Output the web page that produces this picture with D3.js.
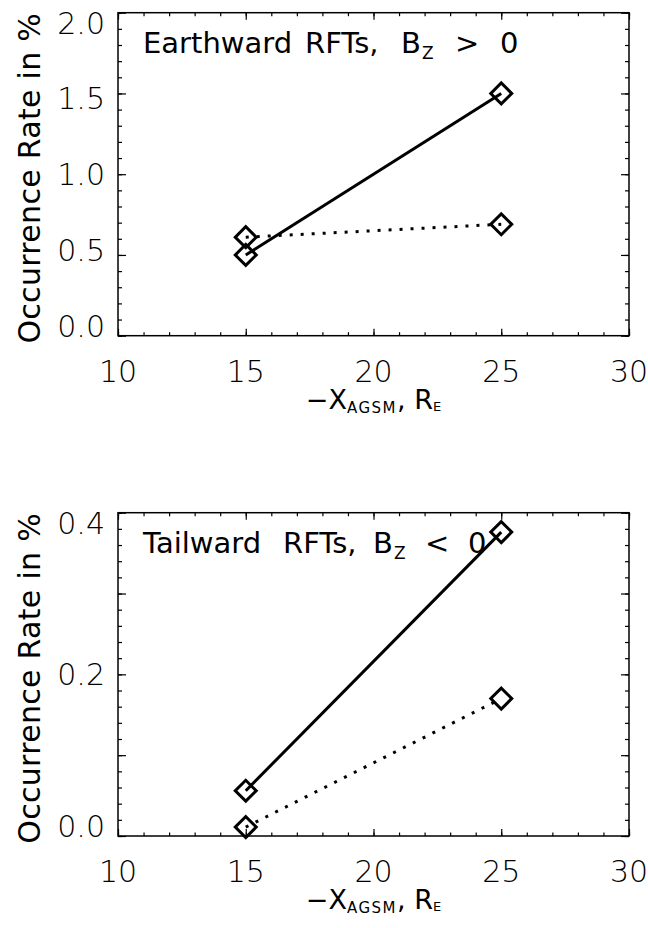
<!DOCTYPE html>
<html>
<head>
<meta charset="utf-8">
<script src="https://cdn.jsdelivr.net/npm/d3@7"></script>
<style>
body { margin: 0; background: #fff; }
svg { display: block; }
text { font-family: "DejaVu Sans", sans-serif; fill: #000; }
.ticklab { font-weight: 200; }
</style>
</head>
<body>
<div id="chart"></div>
<script>
// Values
var distances = [15, 25];
var earthwardSolid = [0.50, 1.50];
var earthwardDotted = [0.61, 0.69];
var tailwardSolid = [0.056, 0.376];
var tailwardDotted = [0.011, 0.170];
var xTickLabels = [10, 15, 20, 25, 30];
var earthwardYLabels = [0.0, 0.5, 1.0, 1.5, 2.0];
var tailwardYLabels = [0.0, 0.2, 0.4];

var W = 648, H = 928;
var left = 118, right = 629;

var svg = d3.select("#chart").append("svg")
    .attr("width", W)
    .attr("height", H);

// title words: [text, x offset from the title start]
var panels = [
    {top: 12.7, bottom: 335.7, yDomain: [0, 2], majorCount: 4, minorCount: 20,
     yLabels: earthwardYLabels, solid: earthwardSolid, dotted: earthwardDotted,
     title: [["Earthward", 0], ["RFTs,", 162], ["B", 258], [">", 312], ["0", 357]]},
    {top: 512.7, bottom: 836, yDomain: [0, 0.4], majorCount: 4, minorCount: 20,
     yLabels: tailwardYLabels, solid: tailwardSolid, dotted: tailwardDotted,
     title: [["Tailward", 0], ["RFTs,", 140], ["B", 230], ["<", 282], ["0", 325]]}
];

// Ticks on one side of the box, pointing inwards
function side(g, axisFn, scale, ticks, size, transform) {
    g.append("g")
        .attr("transform", transform)
        .call(axisFn(scale).tickValues(ticks).tickSize(size).tickSizeOuter(0).tickFormat(""))
        .call(function(s) { s.select(".domain").remove(); })
        .selectAll("line")
            .attr("stroke", "#000")
            .attr("stroke-width", 1.2);
}

function drawPanel(p) {
    var g = svg.append("g");
    var x = d3.scaleLinear().domain([10, 30]).range([left, right]);
    var y = d3.scaleLinear().domain(p.yDomain).range([p.bottom, p.top]);

    var xMaj = x.ticks(4), xMin = x.ticks(20);
    var yMaj = y.ticks(p.majorCount), yMin = y.ticks(p.minorCount);

    // box ticks on all four sides
    side(g, d3.axisBottom, x, xMin, -3.5, `translate(0,${p.bottom})`);
    side(g, d3.axisBottom, x, xMaj, -7, `translate(0,${p.bottom})`);
    side(g, d3.axisTop, x, xMin, -3.5, `translate(0,${p.top})`);
    side(g, d3.axisTop, x, xMaj, -7, `translate(0,${p.top})`);
    side(g, d3.axisLeft, y, yMin, -4, `translate(${left},0)`);
    side(g, d3.axisLeft, y, yMaj, -8, `translate(${left},0)`);
    side(g, d3.axisRight, y, yMin, -4, `translate(${right},0)`);
    side(g, d3.axisRight, y, yMaj, -8, `translate(${right},0)`);

    g.append("rect")
        .attr("x", left)
        .attr("y", p.top)
        .attr("width", right - left)
        .attr("height", p.bottom - p.top)
        .attr("fill", "none")
        .attr("stroke", "#000")
        .attr("stroke-width", 1.5);

    // x tick labels
    g.selectAll(".xlab")
        .data(xTickLabels)
        .enter()
        .append("text")
            .attr("class", "ticklab")
            .attr("x", function(v) { return x(v); })
            .attr("y", p.bottom + 46)
            .attr("text-anchor", "middle")
            .style("font-size", "30px")
            .text(function(v) { return v; });

    // y tick labels, end labels pulled inside the box like the original
    var ly = d3.scaleLinear().domain(p.yDomain).range([p.bottom - 10, p.top + 10]);
    g.selectAll(".ylab")
        .data(p.yLabels)
        .enter()
        .append("text")
            .attr("class", "ticklab")
            .attr("x", 105)
            .attr("y", function(v) { return ly(v); })
            .attr("dy", "0.36em")
            .attr("text-anchor", "end")
            .style("font-size", "30px")
            .text(function(v) { return d3.format(".1f")(v); });

    // axis titles
    var xl = g.append("text")
        .attr("x", (left + right) / 2)
        .attr("y", p.bottom + 73)
        .attr("text-anchor", "middle")
        .style("font-size", "27px");
    xl.append("tspan").text("\u2212X");
    xl.append("tspan").attr("dy", 4).style("font-size", "15px").style("letter-spacing", "1.5px").text("AGSM");
    xl.append("tspan").attr("dy", -4).text(",  R");
    xl.append("tspan").attr("dy", 2).style("font-size", "13px").text("E");

    g.append("text")
        .attr("transform", `translate(40,${(p.top + p.bottom) / 2 + 4}) rotate(-90)`)
        .attr("text-anchor", "middle")
        .style("font-size", "30px")
        .style("letter-spacing", "0.3px")
        .text("Occurrence Rate in %");

    // panel title
    var t = g.append("text")
        .attr("y", p.top + 40)
        .style("font-size", "29px");
    p.title.forEach(function(w) {
        t.append("tspan").attr("x", 143 + w[1]).attr("y", p.top + 40).text(w[0]);
        if (w[0] == "B") {
            t.append("tspan").attr("x", 143 + w[1] + 21).attr("y", p.top + 46)
                .style("font-size", "17px").text("Z");
        }
    });

    // data
    var line = d3.line()
        .x(function(d) { return x(d[0]); })
        .y(function(d) { return y(d[1]); });

    g.append("path")
        .datum(d3.zip(distances, p.dotted))
        .attr("d", line)
        .attr("fill", "none")
        .attr("stroke", "#000")
        .attr("stroke-width", 3)
        .attr("stroke-dasharray", "3,8");

    g.append("path")
        .datum(d3.zip(distances, p.solid))
        .attr("d", line)
        .attr("fill", "none")
        .attr("stroke", "#000")
        .attr("stroke-width", 3);

    var diamond = d3.symbol(d3.symbolSquare, 220);
    g.selectAll(".pt")
        .data(d3.zip(distances, p.solid).concat(d3.zip(distances, p.dotted)))
        .enter()
        .append("path")
            .attr("d", diamond)
            .attr("transform", function(d) { return `translate(${x(d[0])},${y(d[1])}) rotate(45)`; })
            .attr("fill", "none")
            .attr("stroke", "#000")
            .attr("stroke-width", 3);
}

panels.forEach(drawPanel);
</script>
</body>
</html>
